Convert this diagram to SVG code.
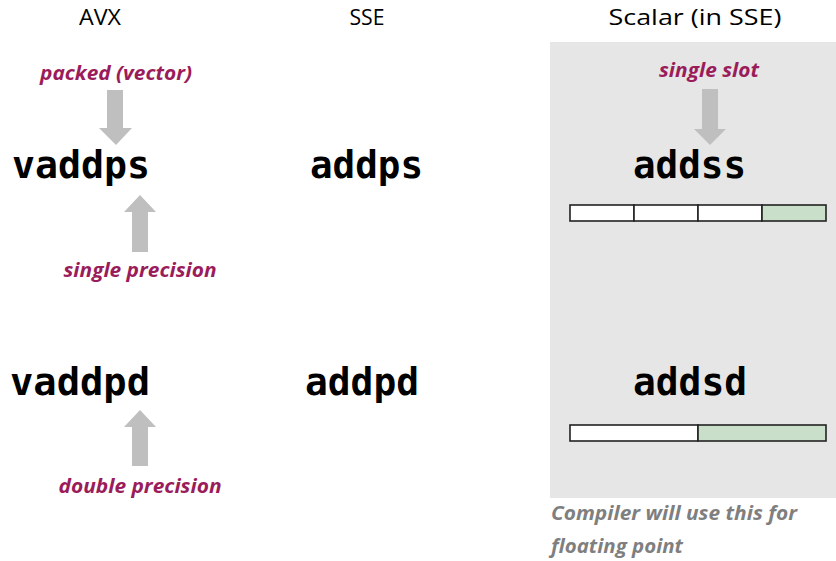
<svg xmlns="http://www.w3.org/2000/svg" width="836" height="561" viewBox="0 0 836 561">
<style>
.hdr{font-family:"Open Sans","Liberation Sans",sans-serif;font-size:21px;fill:#000;text-anchor:middle}
.mn{font-family:"DejaVu Sans Mono","Liberation Mono",monospace;font-weight:bold;font-size:37px;fill:#000}
.lbl{font-family:"Open Sans","Liberation Sans",sans-serif;font-weight:bold;font-style:italic;font-size:19px;fill:#9b1c5a;text-anchor:middle}
.note{font-family:"Open Sans","Liberation Sans",sans-serif;font-weight:bold;font-style:italic;font-size:20px;fill:#7f7f7f}
.arr{fill:#bfbfbf}
.reg{stroke:#222;stroke-width:1.6}
</style>
<rect id="panel" x="550" y="42" width="286" height="456" fill="#e6e6e6"/>
<g id="headers">
<text class="hdr" x="100" y="25" textLength="42" lengthAdjust="spacingAndGlyphs">AVX</text>
<text class="hdr" x="367" y="25" textLength="35" lengthAdjust="spacingAndGlyphs">SSE</text>
<text class="hdr" x="695" y="25" textLength="173" lengthAdjust="spacingAndGlyphs">Scalar (in SSE)</text>
</g>
<g id="vaddps"><text class="mn" x="12" y="178" textLength="138" lengthAdjust="spacingAndGlyphs">vaddps</text></g>
<g id="addps"><text class="mn" x="310" y="178" textLength="113" lengthAdjust="spacingAndGlyphs">addps</text></g>
<g id="addss"><text class="mn" x="633" y="178" textLength="113" lengthAdjust="spacingAndGlyphs">addss</text></g>
<g id="vaddpd"><text class="mn" x="10" y="395" textLength="140" lengthAdjust="spacingAndGlyphs">vaddpd</text></g>
<g id="addpd"><text class="mn" x="305" y="395" textLength="114" lengthAdjust="spacingAndGlyphs">addpd</text></g>
<g id="addsd"><text class="mn" x="633" y="395" textLength="114" lengthAdjust="spacingAndGlyphs">addsd</text></g>
<g id="labels">
<text class="lbl" x="116" y="80" textLength="152" lengthAdjust="spacingAndGlyphs">packed (vector)</text>
<text class="lbl" x="140" y="277" textLength="153" lengthAdjust="spacingAndGlyphs">single precision</text>
<text class="lbl" x="140" y="493" textLength="163" lengthAdjust="spacingAndGlyphs">double precision</text>
<text class="lbl" x="709" y="77" textLength="100" lengthAdjust="spacingAndGlyphs">single slot</text>
</g>
<g id="connectors">
<polygon class="arr" points="107,90 123,90 123,128 132,128 116,145 99,128 107,128"/>
<polygon class="arr" points="132,252 148,252 148,212 156,212 140,195 124,212 132,212"/>
<polygon class="arr" points="132,466 148,466 148,427 156,427 140,410 124,427 132,427"/>
<polygon class="arr" points="702,89 718,89 718,129 726,129 710,145 694,129 702,129"/>
</g>
<g id="reg1">
<rect class="reg" x="570" y="205" width="64" height="16" fill="#fff"/>
<rect class="reg" x="634" y="205" width="64" height="16" fill="#fff"/>
<rect class="reg" x="698" y="205" width="64" height="16" fill="#fff"/>
<rect class="reg" x="762" y="205" width="64" height="16" fill="#c9dfc9"/>
</g>
<g id="reg2">
<rect class="reg" x="570" y="425" width="128" height="16" fill="#fff"/>
<rect class="reg" x="698" y="425" width="128" height="16" fill="#c9dfc9"/>
</g>
<g id="note">
<text class="note" x="551" y="520" textLength="246" lengthAdjust="spacingAndGlyphs">Compiler will use this for</text>
<text class="note" x="551" y="553" textLength="132" lengthAdjust="spacingAndGlyphs">floating point</text>
</g>
</svg>
